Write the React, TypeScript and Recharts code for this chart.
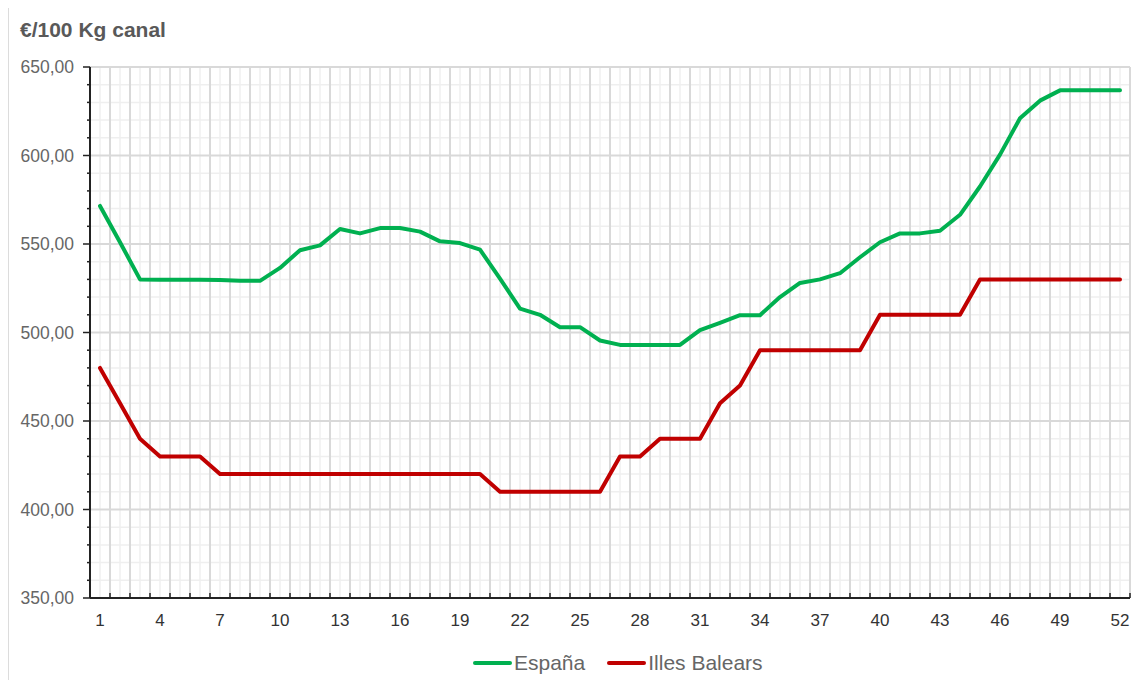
import React from 'react';
import { LineChart, Line, XAxis, YAxis, CartesianGrid } from 'recharts';

// Weekly pig carcass price, €/100 kg
const weeks = Array.from({ length: 52 }, (_, i) => i + 1);

const espana = [
  571.5, 551, 530, 529.8, 529.8, 529.8, 529.6, 529.2, 529.2, 536.5,
  546.5, 549.2, 558.5, 556, 559, 559, 557, 551.5, 550.5, 546.8,
  530.5, 513.5, 510, 503, 503, 495.5, 493, 493, 493, 493,
  501.4, 505.5, 509.8, 509.8, 520, 528, 530, 533.5, 542.5, 551,
  556, 556, 557.5, 566.5, 582.5, 600.5, 621, 631, 636.8, 636.8,
  636.8, 636.8,
];

const baleares = [
  480, 460, 440, 430, 430, 430, 420, 420, 420, 420,
  420, 420, 420, 420, 420, 420, 420, 420, 420, 420,
  410, 410, 410, 410, 410, 410, 430, 430, 440, 440,
  440, 460, 470, 490, 490, 490, 490, 490, 490, 510,
  510, 510, 510, 510, 530, 530, 530, 530, 530, 530,
  530, 530,
];

const xLabels = [1, 4, 7, 10, 13, 16, 19, 22, 25, 28, 31, 34, 37, 40, 43, 46, 49, 52];
const yMajor = [350, 400, 450, 500, 550, 600, 650];
const yMinor = [360, 370, 380, 390, 410, 420, 430, 440, 460, 470, 480, 490, 510, 520, 530, 540, 560, 570, 580, 590, 610, 620, 630, 640];

const Y_MIN = 350;
const Y_MAX = 650;
const X_MIN = 0.5;
const X_MAX = 52.5;

const GREEN = '#00b050';
const RED = '#c00000';
const FONT = '"Liberation Sans", Arial, sans-serif';

const data = weeks.map((w, i) => ({ week: w, es: espana[i], ib: baleares[i] }));

// week boundaries carry the tick marks, labels sit at the week itself
const boundaries = weeks.map((w) => w + 0.5);
const xTicks = [...xLabels, ...boundaries].sort((a, b) => a - b);
const yTicks = [...yMajor, ...yMinor].sort((a, b) => a - b);

const fmt = (v: number) => v.toFixed(2).replace('.', ',');

const xPos = (offset: any, v: number) => offset.left + (offset.width * (v - X_MIN)) / (X_MAX - X_MIN);
const yPos = (offset: any, v: number) => offset.top + (offset.height * (Y_MAX - v)) / (Y_MAX - Y_MIN);

function YTick({ x, y, payload }: any) {
  const v = payload.value as number;
  const major = v % 50 === 0;
  return (
    <g>
      <line x1={x - (major ? 7 : 3)} x2={x} y1={y} y2={y} stroke="#222" strokeWidth={1.5} />
      {major && (
        <text x={x - 16} y={y} dy="0.36em" textAnchor="end" fill="#666" fontSize={17.5} fontFamily={FONT}>
          {fmt(v)}
        </text>
      )}
    </g>
  );
}

function XTick({ x, y, payload }: any) {
  const v = payload.value as number;
  if (Number.isInteger(v)) {
    return (
      <text x={x} y={y + 28} textAnchor="middle" fill="#333" fontSize={17} fontFamily={FONT}>
        {v}
      </text>
    );
  }
  return <line x1={x} x2={x} y1={y - 5} y2={y} stroke="#222" strokeWidth={1.5} />;
}

function LegendItem({ color, label }: { color: string; label: string }) {
  return (
    <span style={{ display: 'flex', alignItems: 'center' }}>
      <span style={{ display: 'inline-block', width: 39, height: 4, borderRadius: 2, background: color, marginRight: 2 }} />
      <span>{label}</span>
    </span>
  );
}

export default function App() {
  return (
    <div
      style={{
        position: 'relative',
        marginTop: -3,
        width: 1137,
        height: 690,
        borderTop: '1px solid #dcdcdc',
        borderLeft: '1px solid #dcdcdc',
        fontFamily: FONT,
        overflow: 'hidden',
      }}
    >
      <div style={{ position: 'absolute', left: 11, top: 12, fontSize: 21, fontWeight: 'bold', color: '#595959' }}>
        €/100 Kg canal
      </div>

      <LineChart width={1136} height={674} data={data} margin={{ top: 61, right: 15, left: 0, bottom: 42 }}>
        {/* light minor grid: every 10 units / week centres */}
        <CartesianGrid
          stroke="#efefef"
          strokeWidth={1.5}
          horizontalCoordinatesGenerator={({ offset }: any) => yMinor.map((v) => yPos(offset, v))}
          verticalCoordinatesGenerator={({ offset }: any) => weeks.map((w) => xPos(offset, w))}
        />
        {/* major grid: every 50 units / week boundaries */}
        <CartesianGrid
          stroke="#d9d9d9"
          strokeWidth={2}
          horizontalCoordinatesGenerator={({ offset }: any) => yMajor.filter((v) => v > Y_MIN).map((v) => yPos(offset, v))}
          verticalCoordinatesGenerator={({ offset }: any) => boundaries.map((b) => xPos(offset, b))}
        />
        <XAxis
          dataKey="week"
          type="number"
          domain={[X_MIN, X_MAX]}
          ticks={xTicks}
          interval={0}
          height={40}
          tickSize={0}
          tickMargin={0}
          tickLine={false}
          tick={<XTick />}
          axisLine={{ stroke: '#222', strokeWidth: 2 }}
        />
        <YAxis
          type="number"
          domain={[Y_MIN, Y_MAX]}
          ticks={yTicks}
          interval={0}
          width={81}
          tickSize={0}
          tickMargin={0}
          tickLine={false}
          tick={<YTick />}
          axisLine={{ stroke: '#222', strokeWidth: 2 }}
        />
        <Line
          type="linear"
          dataKey="es"
          name="España"
          stroke={GREEN}
          strokeWidth={4}
          strokeLinejoin="round"
          strokeLinecap="round"
          dot={false}
          activeDot={false}
          isAnimationActive={false}
        />
        <Line
          type="linear"
          dataKey="ib"
          name="Illes Balears"
          stroke={RED}
          strokeWidth={4}
          strokeLinejoin="round"
          strokeLinecap="round"
          dot={false}
          activeDot={false}
          isAnimationActive={false}
        />
      </LineChart>

      <div
        style={{
          position: 'absolute',
          left: 464,
          top: 645,
          height: 24,
          display: 'flex',
          gap: 22,
          fontSize: 21,
          lineHeight: '24px',
          color: '#666',
        }}
      >
        <LegendItem color={GREEN} label="España" />
        <LegendItem color={RED} label="Illes Balears" />
      </div>
    </div>
  );
}
